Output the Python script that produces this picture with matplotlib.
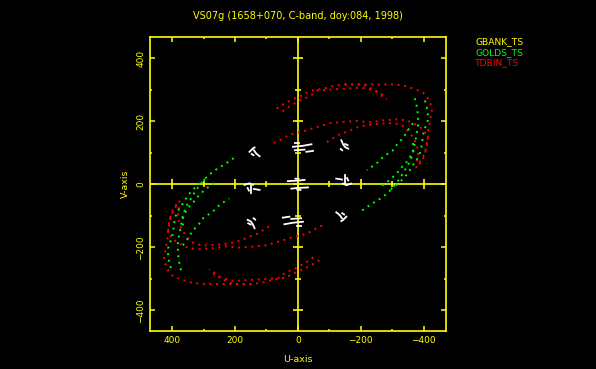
import numpy as np
import matplotlib.pyplot as plt

# uv coverage, VS07g (1658+070), in the same units as the axes
# each track is stored once, the conjugate point (-u,-v) is drawn too

title = 'VS07g (1658+070, C-band, doy:084, 1998)'
stations = ['GBANK_TS', 'GOLDS_TS', 'TDBIN_TS']
station_colors = ['yellow', '#00ff00', 'red']

major_ticks = [400, 200, 0, -200, -400]
minor_ticks = [300, 100, -100, -300]

# red tracks (TDBIN_TS)
r1_u = [68, 42, 17, -12, -31, -47, -63, -85, -107, -127, -143, -165, -187, -203, -219, -235, -248, -260, -270, -283]
r1_v = [241, 257, 270, 282, 292, 298, 301, 304, 311, 314, 317, 317, 317, 317, 311, 304, 295, 288, 276, 270]

r1b_u = [49, 27, -5, -37, -63, -111, -155, -203, -229, -251, -267, -276]
r1b_v = [232, 247, 266, 279, 298, 301, 304, 307, 301, 295, 286, 273]

r2_u = [-149, -197, -260, -299, -334, -366, -382, -397, -410, -417, -423, -426, -423,
        -420, -417, -413, -413, -410, -407, -404, -397, -388, -378, -372]
r2_v = [317, 317, 317, 317, 314, 304, 298, 292, 279, 266, 251, 235, 219,
        200, 181, 165, 148, 131, 114, 99, 86, 71, 58, 45]

r3_u = [77, 58, 42, 27, 11, -15, -47, -79, -101, -143, -187, -229, -270, -315,
        -346, -366, -388, -404, -413, -410, -401, -385]
r3_v = [131, 140, 150, 156, 162, 167, 178, 187, 194, 198, 201, 197, 203, 206,
        203, 194, 182, 166, 148, 119, 87, 62]

r4_u = [-92, -127, -158, -197, -244, -292, -324, -340, -353, -366, -375, -382, -382, -375]
r4_v = [134, 156, 168, 184, 191, 194, 191, 181, 165, 150, 131, 108, 86, 67]

# green tracks (GOLDS_TS)
g1_u = [-372, -378, -382, -382, -378, -372, -366, -356, -340, -327, -311, -286, -260, -235, -216, -197]
g1_v = [273, 247, 216, 187, 162, 131, 99, 71, 45, 23, 1, -28, -47, -62, -75, -88]

g2_u = [-404, -410, -413, -413, -404, -397, -394, -388, -378, -366, -356, -340, -324, -311, -292]
g2_v = [266, 244, 225, 203, 178, 153, 124, 99, 77, 61, 45, 23, 7, -5, -18]

g3_u = [-366, -366, -356, -346, -331, -318, -302, -283, -260]
g3_v = [131, 108, 86, 71, 55, 39, 23, 7, -9]

g4_u = [-366, -350, -334, -318, -302, -270, -251, -219]
g4_v = [194, 172, 146, 131, 108, 86, 67, 45]

# white scribbles near the centre (ground baselines)
white_tracks = [
    ([32, -5, -21], [10, 12, 14]),
    ([8, -2], [18, 17]),
    ([16, -15, -43], [119, 122, 127]),
    ([10, -21], [108, 110]),
    ([-27, -48], [103, 106]),
    ([-2, 10], [131, 131]),
    ([154, 143, 138], [103, 114, 117]),
    ([140, 133, 127, 122], [108, 98, 93, 89]),
    ([147, 141], [96, 92]),
    ([-138, -143, -150, -160], [140, 128, 118, 113]),
    ([-150, -158], [128, 124]),
    ([-136, -141], [112, 108]),
    ([170, 154, 143], [-2, 3, -2]),
    ([149, 149], [-5, -28]),
    ([140, 122], [-15, -18]),
    ([160, 156], [-12, -20]),
]

fig = plt.figure(figsize=(5.96, 3.69), dpi=100, facecolor='black')
ax = fig.add_axes([0.2517, 0.103, 0.4961, 0.7975])
ax.set_facecolor('black')

# zero lines with their own ticks
ax.axhline(0, color='yellow', lw=1.2, zorder=1)
ax.axvline(0, color='yellow', lw=1.2, zorder=1)
ax.plot(major_ticks, [0] * len(major_ticks), ls='none', marker='|', ms=6.5, mew=1.2, color='yellow', zorder=1)
ax.plot(minor_ticks, [0] * len(minor_ticks), ls='none', marker='|', ms=3.8, mew=1.2, color='yellow', zorder=1)
ax.plot([0] * len(major_ticks), major_ticks, ls='none', marker='_', ms=6.5, mew=1.2, color='yellow', zorder=1)
ax.plot([0] * len(minor_ticks), minor_ticks, ls='none', marker='_', ms=3.8, mew=1.2, color='yellow', zorder=1)

dots = (0, (1, 2.4))
for u, v in [(r1_u, r1_v), (r1b_u, r1b_v), (r2_u, r2_v), (r3_u, r3_v), (r4_u, r4_v)]:
    u = np.array(u)
    v = np.array(v)
    ax.plot(u, v, color='red', lw=1.4, ls=dots, zorder=2)
    ax.plot(-u, -v, color='red', lw=1.4, ls=dots, zorder=2)

for u, v in [(g1_u, g1_v), (g2_u, g2_v), (g3_u, g3_v), (g4_u, g4_v)]:
    u = np.array(u)
    v = np.array(v)
    ax.plot(u, v, color='#00ff00', lw=1.4, ls=dots, zorder=3)
    ax.plot(-u, -v, color='#00ff00', lw=1.4, ls=dots, zorder=3)

for u, v in white_tracks:
    u = np.array(u)
    v = np.array(v)
    ax.plot(u, v, color='white', lw=1.3, zorder=4)
    ax.plot(-u, -v, color='white', lw=1.3, zorder=4)

ax.set_xlim(470.5, -470)
ax.set_ylim(-466, 468.6)

ax.set_xticks(major_ticks)
ax.set_xticks(minor_ticks, minor=True)
ax.set_yticks(major_ticks)
ax.set_yticks(minor_ticks, minor=True)
ax.tick_params(which='both', direction='in', top=True, right=True, color='yellow',
               labelcolor='yellow', labelsize=6.5, width=1.1)
ax.tick_params(which='major', length=3.3, pad=3.5)
ax.tick_params(which='minor', length=1.7)
for lab in ax.get_yticklabels():
    lab.set_rotation(90)
    lab.set_va('center')

for s in ax.spines.values():
    s.set_color('yellow')
    s.set_linewidth(1.2)

ax.set_xlabel('U-axis', color='yellow', fontsize=6.8, labelpad=7)
ax.set_ylabel('V-axis', color='yellow', fontsize=6.8, labelpad=4.5)
ax.set_title(title, color='yellow', fontsize=7, pad=13)

# station list on the right
for i, (name, col) in enumerate(zip(stations, station_colors)):
    fig.text(0.797, 0.887 - i * 0.0285, name, color=col, fontsize=6.6, va='center', ha='left')

fig.savefig('out.png', dpi=100, facecolor='black')
